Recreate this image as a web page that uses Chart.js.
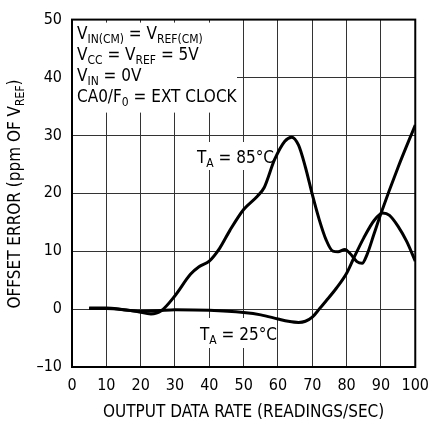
<!DOCTYPE html>
<html>
<head>
<meta charset="utf-8">
<script src="https://cdn.jsdelivr.net/npm/chart.js@4"></script>
<style>
  html, body { margin: 0; padding: 0; background: #fff; }
  #wrap { width: 438px; height: 422px; }
</style>
</head>
<body>
<div id="wrap"><canvas id="chart" width="438" height="422"></canvas></div>
<script>
// data
const rates25 = [5, 10, 15, 20, 25, 30, 40, 50, 55, 60, 63, 66, 68, 70, 72, 74, 77, 80, 82, 85, 88, 90.5, 92.5, 95, 97.5, 100];
const error25 = [0.2, 0.2, -0.1, -0.4, -0.3, -0.1, -0.2, -0.6, -1.0, -1.7, -2.1, -2.3, -2.1, -1.4, 0, 1.4, 3.6, 6.2, 8.7, 12.3, 15.3, 16.6, 16.2, 14.3, 11.7, 8.3];

const rates85 = [5, 10, 15, 19, 23, 26, 30, 34.5, 37, 40, 43, 46, 50, 54, 56, 59, 62, 64, 66, 68, 70, 72, 74, 76, 77.5, 79.5, 81, 83, 84.5, 86, 88, 90, 95, 100];
const error85 = [0.1, 0.1, -0.1, -0.4, -0.85, -0.3, 2.3, 6, 7.3, 8.3, 10.5, 13.6, 17.2, 19.5, 21, 25.8, 29, 29.7, 28.3, 24.5, 19.8, 15.5, 12, 10, 9.9, 10.3, 9.6, 8.2, 7.9, 9.5, 13, 16.5, 24.5, 31.8];

const xTicks = [0, 10, 20, 30, 40, 50, 60, 70, 80, 90, 100];
const yTicks = [-10, 0, 10, 20, 30, 40, 50];

const FONT = "'DejaVu Sans Condensed', 'Liberation Sans Narrow', sans-serif";

function toPoints(xs, ys) {
    return xs.map((x, i) => ({ x: x, y: ys[i] }));
}

// text with subscripts: parts = [[text, isSub], ...]
function richWidth(ctx, parts, size) {
    let w = 0;
    parts.forEach(p => {
        ctx.font = (p[1] ? Math.round(size * 0.7) : size) + 'px ' + FONT;
        w += ctx.measureText(p[0]).width;
    });
    return w;
}
function drawRich(ctx, x, y, parts, size) {
    ctx.textBaseline = 'alphabetic';
    ctx.textAlign = 'left';
    parts.forEach(p => {
        const sub = !!p[1];
        ctx.font = (sub ? Math.round(size * 0.7) : size) + 'px ' + FONT;
        ctx.fillText(p[0], x, sub ? y + size * 0.24 : y);
        x += ctx.measureText(p[0]).width;
    });
}

const boxLines = [
    [['V'], ['IN(CM)', 1], [' = V'], ['REF(CM)', 1]],
    [['V'], ['CC', 1], [' = V'], ['REF', 1], [' = 5V']],
    [['V'], ['IN', 1], [' = 0V']],
    [['CA0/F'], ['0', 1], [' = EXT CLOCK']]
];

const decorations = {
    id: 'decorations',
    beforeDatasetsDraw(chart) {
        const ctx = chart.ctx;
        const a = chart.chartArea;
        ctx.save();
        ctx.fillStyle = '#fff';
        // white boxes over the grid behind the notes
        ctx.fillRect(a.left + 1, a.top + 3, 164, 90);
        ctx.fillRect(193, 142, 80, 28);
        ctx.fillRect(196, 318, 80, 30);
        ctx.fillStyle = '#000';
        boxLines.forEach((line, i) => drawRich(ctx, 77, 39 + i * 21, line, 17));
        drawRich(ctx, 197, 162.5, [['T'], ['A', 1], [' = 85°C']], 17);
        drawRich(ctx, 200, 340, [['T'], ['A', 1], [' = 25°C']], 17);
        ctx.restore();
    },
    afterDraw(chart) {
        const ctx = chart.ctx;
        const a = chart.chartArea;
        ctx.save();
        ctx.strokeStyle = '#000';
        ctx.lineWidth = 2;
        ctx.strokeRect(a.left, a.top, a.right - a.left, a.bottom - a.top);

        // axis titles
        ctx.fillStyle = '#000';
        ctx.font = '17px ' + FONT;
        ctx.textAlign = 'center';
        ctx.textBaseline = 'alphabetic';
        ctx.fillText('OUTPUT DATA RATE (READINGS/SEC)', (a.left + a.right) / 2, 417);

        const yTitle = [['OFFSET ERROR (ppm OF V'], ['REF', 1], [')']];
        const w = richWidth(ctx, yTitle, 17);
        ctx.translate(20, 194);
        ctx.rotate(-Math.PI / 2);
        drawRich(ctx, -w / 2, 0, yTitle, 17);
        ctx.restore();
    }
};

const lineStyle = {
    borderColor: '#000',
    borderWidth: 3,
    pointRadius: 0,
    fill: false,
    cubicInterpolationMode: 'monotone'
};

new Chart(document.getElementById('chart'), {
    type: 'line',
    data: {
        datasets: [
            Object.assign({ label: 'TA = 25°C', data: toPoints(rates25, error25) }, lineStyle),
            Object.assign({ label: 'TA = 85°C', data: toPoints(rates85, error85) }, lineStyle)
        ]
    },
    options: {
        responsive: false,
        animation: false,
        devicePixelRatio: 1,
        layout: { padding: { top: 15, right: 14, left: 0, bottom: 0 } },
        plugins: { legend: { display: false }, tooltip: { enabled: false } },
        scales: {
            x: {
                type: 'linear',
                min: 0, max: 100,
                afterFit: s => { s.height = 55; },
                afterBuildTicks: s => { s.ticks = xTicks.map(v => ({ value: v })); },
                grid: { color: '#333', lineWidth: 1, drawTicks: false },
                border: { display: false },
                ticks: { color: '#000', padding: 9, autoSkip: false, font: { family: FONT, size: 16 }, maxRotation: 0 }
            },
            y: {
                type: 'linear',
                min: -10, max: 50,
                afterFit: s => { s.width = 72; },
                afterBuildTicks: s => { s.ticks = yTicks.map(v => ({ value: v })); },
                grid: { color: '#333', lineWidth: 1, drawTicks: false },
                border: { display: false },
                ticks: {
                    color: '#000', padding: 10, autoSkip: false,
                    font: { family: FONT, size: 16 },
                    callback: v => (v < 0 ? '\u2013' + Math.abs(v) : String(v))
                }
            }
        }
    },
    plugins: [decorations]
});
</script>
</body>
</html>
